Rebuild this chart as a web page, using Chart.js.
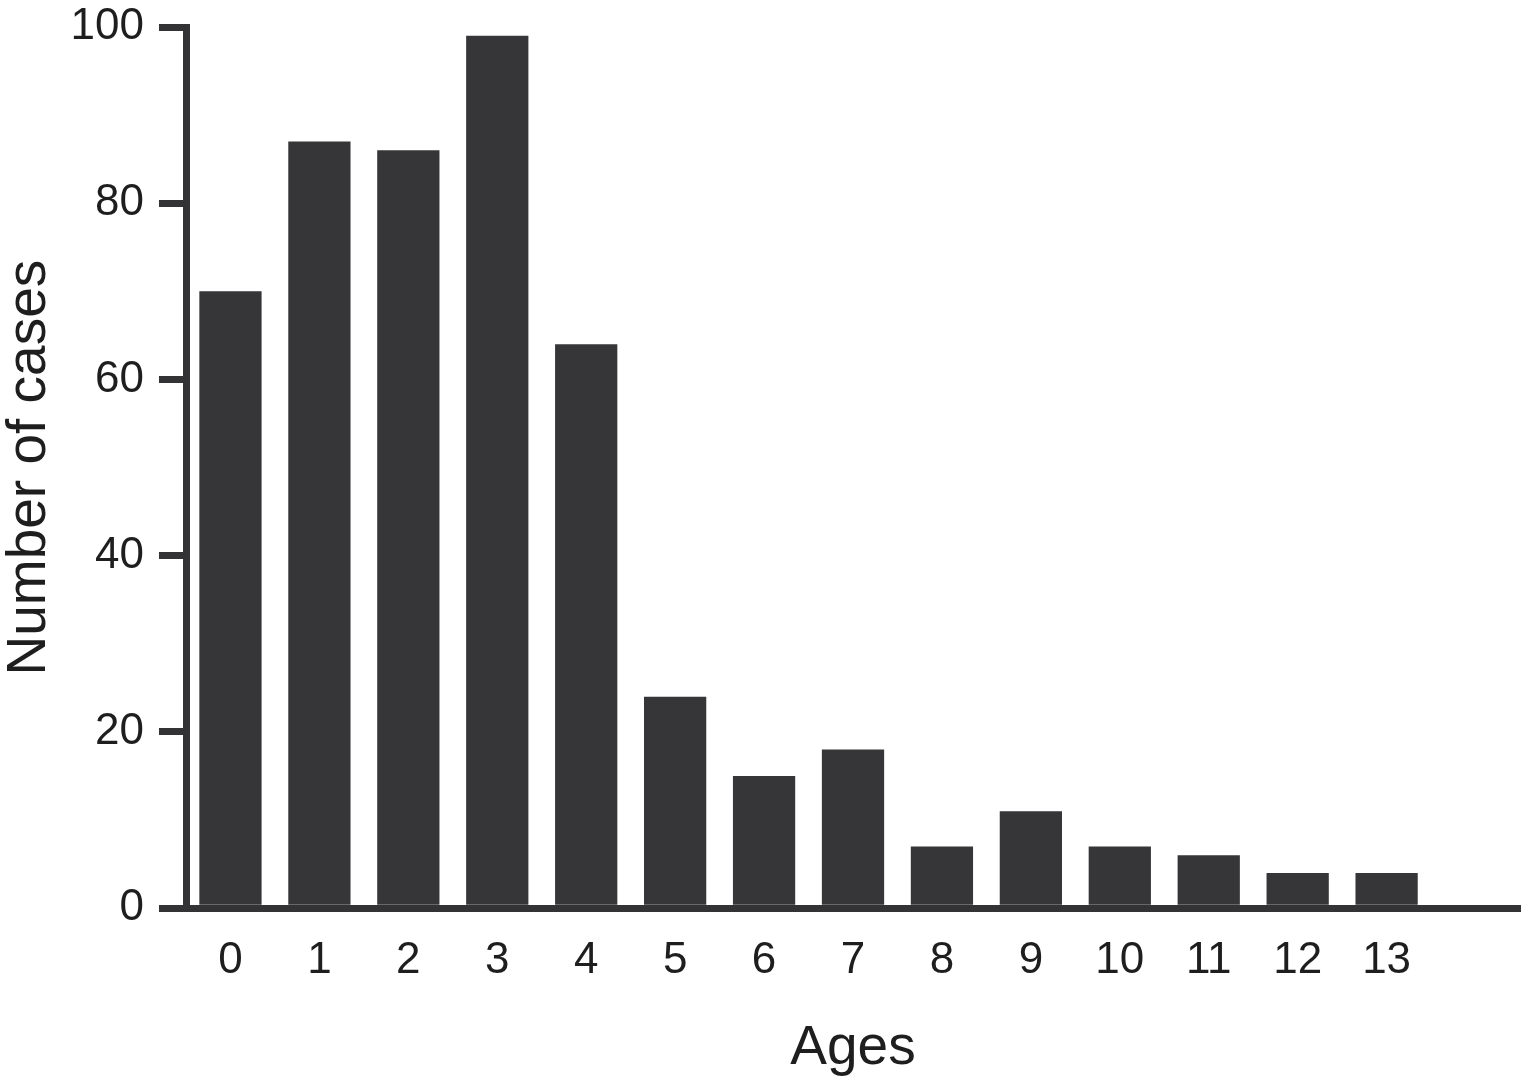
<!DOCTYPE html>
<html>
<head>
<meta charset="utf-8">
<title>Number of cases by age</title>
<script src="https://cdn.jsdelivr.net/npm/chart.js@4.4.0/dist/chart.umd.min.js"></script>
<style>
    body { margin: 0; background: #fff; }
    canvas { display: block; }
</style>
</head>
<body>
<canvas id="agesChart" width="1522" height="1077"></canvas>
<script>
    const ages = ['0', '1', '2', '3', '4', '5', '6', '7', '8', '9', '10', '11', '12', '13', ''];
    const cases = [70, 87, 86, 99, 64, 24, 15, 18, 7, 11, 7, 6, 4, 4, 0];
    const yTicks = [0, 20, 40, 60, 80, 100];

    const ink = '#333335';
    const fontName = '"Liberation Sans", Arial, Helvetica, sans-serif';

    const agesChart = new Chart(document.getElementById('agesChart'), {
      type: 'bar',
      data: {
        labels: ages,
        datasets: [{
          label: 'Number of cases',
          data: cases,
          backgroundColor: '#363638',
          borderWidth: 0,
          categoryPercentage: 1,
          barPercentage: 0.7
        }]
      },
      options: {
        responsive: false,
        animation: false,
        layout: {
          padding: { top: 0, right: 2, bottom: -5, left: -3 }
        },
        plugins: {
          legend: { display: false },
          tooltip: { enabled: false }
        },
        scales: {
          x: {
            grid: { drawOnChartArea: false, drawTicks: false },
            border: { width: 7, color: ink },
            ticks: {
              color: '#1e1e1e',
              font: { family: fontName, size: 44 },
              padding: 26,
              maxRotation: 0,
              autoSkip: false
            },
            title: {
              display: true,
              text: 'Ages',
              color: '#1e1e1e',
              font: { family: fontName, size: 55 },
              padding: { top: 3, bottom: 0 }
            }
          },
          y: {
            min: 0,
            max: 100,
            afterBuildTicks: scale => {
              scale.ticks = yTicks.map(v => ({ value: v }));
            },
            afterFit: scale => {
              scale.width = 189;
              scale.paddingTop = 27;
              scale.paddingBottom = 0;
            },
            grid: {
              drawOnChartArea: false,
              tickLength: 27,
              lineWidth: 7,
              color: ink
            },
            border: { width: 7, color: ink },
            ticks: {
              color: '#1e1e1e',
              font: { family: fontName, size: 44 },
              padding: 15
            },
            title: {
              display: true,
              text: 'Number of cases',
              color: '#1e1e1e',
              font: { family: fontName, size: 55 },
              padding: { top: 0, bottom: 0 }
            }
          }
        }
      }
    });
</script>
</body>
</html>
